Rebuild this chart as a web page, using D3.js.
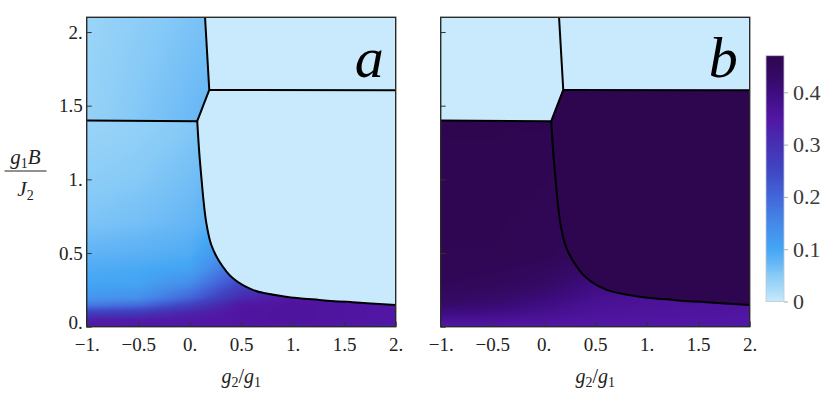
<!DOCTYPE html>
<html><head><meta charset="utf-8">
<script src="https://cdn.jsdelivr.net/npm/d3@7"></script>
<style>body{margin:0;background:#fff}svg{display:block}
svg text{font-family:"Liberation Serif","DejaVu Serif","Times New Roman",serif !important;}</style>
</head><body>
<svg id="chart" width="830" height="397"></svg>
<script>
// ---------- data ----------
const xTicks = [-1, -0.5, 0, 0.5, 1, 1.5, 2];
const xTickLabels = ["\u22121.", "\u22120.5", "0.", "0.5", "1.", "1.5", "2."];
const yTicks = [0, 0.5, 1, 1.5, 2];
const yTickLabels = ["0.", "0.5", "1.", "1.5", "2."];
const cbTicks = [0, 0.1, 0.2, 0.3, 0.4];
const cbTickLabels = ["0", "0.1", "0.2", "0.3", "0.4"];
const panelLabels = ["a", "b"];

// colour map (value -> colour)
const cmapValues = [0, 0.025, 0.05, 0.075, 0.1, 0.15, 0.2, 0.25, 0.3, 0.35, 0.4, 0.43, 0.47];
const cmapColors = ["#c8eafc", "#a6d9f8", "#88cbf7", "#64b5f5", "#44a6f4", "#4588e8", "#4366da",
                    "#4046c4", "#4630b2", "#5216a4", "#3e0c80", "#340a66", "#2e0650"];

// phase boundaries (g2/g1, g1B/J2)
const upperBoundary = [[0.149, 2.1], [0.19, 1.607], [0.073, 1.395]];
const lowerBoundary = [[0.073, 1.395], [0.093, 1.18], [0.115, 1.0], [0.135, 0.85], [0.16, 0.71],
  [0.209, 0.556], [0.288, 0.443], [0.417, 0.33], [0.612, 0.25], [0.935, 0.204],
  [1.258, 0.182], [1.582, 0.166], [2.0, 0.148]];
const leftLine = [[-1, 1.40], [0.073, 1.395]];
const rightLine = [[0.19, 1.607], [2, 1.605]];

// panel a : lower-left phase values
const gridXa = [-1, -0.5, 0, 0.5, 1, 2];
const gridYa = [0, 0.05, 0.1, 0.15, 0.2, 0.3, 0.4, 0.5, 0.7, 1.0, 1.4];
const gridVa = [
  [0.35, 0.35, 0.35, 0.35, 0.35, 0.34],
  [0.33, 0.335, 0.345, 0.355, 0.36, 0.35],
  [0.26, 0.275, 0.32, 0.355, 0.36, 0.35],
  [0.17, 0.19, 0.26, 0.35, 0.36, 0.35],
  [0.125, 0.135, 0.20, 0.31, 0.35, 0.35],
  [0.10, 0.102, 0.14, 0.25, 0.30, 0.30],
  [0.09, 0.095, 0.103, 0.20, 0.25, 0.25],
  [0.078, 0.082, 0.09, 0.15, 0.2, 0.2],
  [0.058, 0.064, 0.074, 0.10, 0.1, 0.1],
  [0.046, 0.052, 0.064, 0.085, 0.08, 0.08],
  [0.034, 0.04, 0.052, 0.065, 0.06, 0.06]
];
// panel a : upper-left phase values
const tlXa = [-1, 0.2];
const tlYa = [1.4, 2.1];
const tlVa = [[0.038, 0.076], [0.034, 0.062]];
// panel a constants for other phases
const phaseA = { TR: 0, R: 0 };

// panel b : lower-left phase values
const gridXb = [-1, -0.5, 0, 0.5, 1, 2];
const gridYb = [0, 0.05, 0.1, 0.15, 0.2, 0.3, 0.5, 1.4];
const gridVb = [
  [0.345, 0.345, 0.345, 0.345, 0.345, 0.345],
  [0.37, 0.37, 0.365, 0.355, 0.355, 0.35],
  [0.40, 0.395, 0.38, 0.365, 0.36, 0.355],
  [0.425, 0.415, 0.395, 0.37, 0.365, 0.36],
  [0.44, 0.43, 0.41, 0.38, 0.37, 0.365],
  [0.455, 0.45, 0.435, 0.40, 0.39, 0.38],
  [0.465, 0.465, 0.46, 0.44, 0.43, 0.42],
  [0.47, 0.47, 0.47, 0.47, 0.47, 0.47]
];
const phaseB = { TL: 0, TR: 0, R: 0.47 };

// ---------- layout ----------
const svg = d3.select("#chart");
const panels = [
  { x0: 86.7, x1: 395.7, label: panelLabels[0], showY: true },
  { x0: 440.7, x1: 749.7, label: panelLabels[1], showY: false }
];
const yTop = 17.3, yBot = 326.7;
const yScale = d3.scaleLinear().domain([0, 2.1]).range([yBot, yTop]);

// colour LUT
const cScale = d3.scaleLinear().domain(cmapValues).range(cmapColors).interpolate(d3.interpolateRgb).clamp(true);
const LUTN = 1024, vMax = 0.47;
const lut = d3.range(LUTN).map(k => d3.rgb(cScale(k / (LUTN - 1) * vMax)));
function colorOf(v) { const k = Math.max(0, Math.min(LUTN - 1, Math.round(v / vMax * (LUTN - 1)))); return lut[k]; }

const vb = upperBoundary.concat(lowerBoundary.slice(1));
function xb(y) {
  if (y >= vb[0][1]) return vb[0][0];
  if (y < vb[vb.length - 1][1]) return Infinity;
  for (let i = 0; i < vb.length - 1; i++) {
    const a = vb[i], b = vb[i + 1];
    if (y <= a[1] && y >= b[1]) return a[0] + (b[0] - a[0]) * (y - a[1]) / (b[1] - a[1]);
  }
  return Infinity;
}
function lineY(line, x) {
  const a = line[0], b = line[1];
  const t = Math.max(0, Math.min(1, (x - a[0]) / (b[0] - a[0])));
  return a[1] + (b[1] - a[1]) * t;
}
function region(x, y) {
  if (x < xb(y)) return y > lineY(leftLine, x) ? "TL" : "L";
  return y > lineY(rightLine, x) ? "TR" : "R";
}
function idx(a, v) { const i = d3.bisectRight(a, v) - 1; return Math.max(0, Math.min(a.length - 2, i)); }
function bilinear(xs, ys, V, x, y) {
  const i = idx(xs, x), j = idx(ys, y);
  const tx = Math.max(0, Math.min(1, (x - xs[i]) / (xs[i + 1] - xs[i])));
  const ty = Math.max(0, Math.min(1, (y - ys[j]) / (ys[j + 1] - ys[j])));
  return (V[j][i] * (1 - tx) + V[j][i + 1] * tx) * (1 - ty) + (V[j + 1][i] * (1 - tx) + V[j + 1][i + 1] * tx) * ty;
}
const valueFns = [
  (x, y) => {
    const r = region(x, y);
    if (r === "TL") return bilinear(tlXa, tlYa, tlVa, x, y);
    if (r === "L") return bilinear(gridXa, gridYa, gridVa, x, y);
    return phaseA[r];
  },
  (x, y) => {
    const r = region(x, y);
    if (r === "L") return bilinear(gridXb, gridYb, gridVb, x, y);
    return phaseB[r];
  }
];

panels.forEach((p, pi) => {
  const xScale = d3.scaleLinear().domain([-1, 2]).range([p.x0, p.x1]);
  const g = svg.append("g");
  const W = Math.round(p.x1 - p.x0), H = Math.round(yBot - yTop);
  const cv = document.createElement("canvas");
  cv.width = W; cv.height = H;
  const ctx = cv.getContext("2d");
  const img = ctx.createImageData(W, H);
  for (let j = 0; j < H; j++) {
    const y = yScale.invert(yTop + j + 0.5);
    for (let i = 0; i < W; i++) {
      const x = xScale.invert(p.x0 + i + 0.5);
      const c = colorOf(valueFns[pi](x, y));
      const o = (j * W + i) * 4;
      img.data[o] = c.r; img.data[o + 1] = c.g; img.data[o + 2] = c.b; img.data[o + 3] = 255;
    }
  }
  ctx.putImageData(img, 0, 0);
  g.append("image").attr("x", p.x0).attr("y", yTop).attr("width", p.x1 - p.x0).attr("height", yBot - yTop)
    .attr("preserveAspectRatio", "none").attr("href", cv.toDataURL());

  // boundaries
  const lineL = d3.line().x(d => xScale(d[0])).y(d => yScale(d[1]));
  const bstyle = sel => sel.attr("fill", "none").attr("stroke", "#000").attr("stroke-width", 2).attr("stroke-linejoin", "round");
  g.append("path").attr("d", lineL(upperBoundary)).call(bstyle);
  g.append("path").attr("d", lineL.curve(d3.curveCatmullRom)(lowerBoundary)).call(bstyle);
  lineL.curve(d3.curveLinear);
  g.append("path").attr("d", lineL(leftLine)).call(bstyle);
  g.append("path").attr("d", lineL(rightLine)).call(bstyle);

  // frame
  g.append("rect").attr("x", p.x0).attr("y", yTop).attr("width", p.x1 - p.x0).attr("height", yBot - yTop)
    .attr("fill", "none").attr("stroke", "#2a2a2a").attr("stroke-width", 1.4);

  // x axis
  const ax = g.append("g").attr("transform", `translate(0,${yBot})`)
    .call(d3.axisBottom(xScale).tickValues(xTicks).tickFormat((d, i) => xTickLabels[i]).tickSizeInner(-5).tickSizeOuter(0));
  ax.select(".domain").remove();
  ax.selectAll(".tick line").attr("stroke", "#333");
  ax.selectAll(".tick text").attr("y", 24).attr("dy", 0).attr("font-size", 19).attr("fill", "#222");

  // y axis
  const ay = g.append("g").attr("transform", `translate(${p.x0},0)`)
    .call(d3.axisLeft(yScale).tickValues(yTicks).tickFormat((d, i) => p.showY ? yTickLabels[i] : "").tickSizeInner(-5).tickSizeOuter(0));
  ay.select(".domain").remove();
  ay.selectAll(".tick line").attr("stroke", "#333");
  ay.selectAll(".tick text").attr("x", -4).attr("dy", (d, i) => i === 0 ? "0.1em" : "0.33em").attr("font-size", 19).attr("fill", "#222");

  // panel letter
  g.append("text").attr("x", p.x1 - 12).attr("y", 77).attr("text-anchor", "end")
    .attr("font-style", "italic").attr("font-size", 58).attr("fill", "#000").text(p.label);

  // x title g2/g1
  const t = g.append("text").attr("x", (p.x0 + p.x1) / 2).attr("y", 383).attr("text-anchor", "middle")
    .attr("font-size", 20).attr("fill", "#222");
  t.append("tspan").attr("font-style", "italic").text("g");
  t.append("tspan").attr("font-size", 14).attr("dy", 4).text("2");
  t.append("tspan").attr("dy", -4).text("/");
  t.append("tspan").attr("font-style", "italic").text("g");
  t.append("tspan").attr("font-size", 14).attr("dy", 4).text("1");
});

// y title: g1 B / J2
const yt = svg.append("g").attr("fill", "#222");
const num = yt.append("text").attr("x", 25.5).attr("y", 164).attr("text-anchor", "middle").attr("font-size", 21);
num.append("tspan").attr("font-style", "italic").text("g");
num.append("tspan").attr("font-size", 14).attr("dy", 4).text("1");
num.append("tspan").attr("font-style", "italic").attr("dy", -4).text("B");
yt.append("line").attr("x1", 4.5).attr("x2", 46.5).attr("y1", 171).attr("y2", 171).attr("stroke", "#222").attr("stroke-width", 1);
const den = yt.append("text").attr("x", 25.5).attr("y", 196).attr("text-anchor", "middle").attr("font-size", 21);
den.append("tspan").attr("font-style", "italic").text("J");
den.append("tspan").attr("font-size", 14).attr("dy", 4).text("2");

// colour bar
const cbX = 766, cbW = 18, cbTop = 55.7, cbBot = 301.5;
const cbScale = d3.scaleLinear().domain([0, vMax]).range([cbBot, cbTop]);
const grad = svg.append("defs").append("linearGradient").attr("id", "cbgrad")
  .attr("x1", 0).attr("y1", 1).attr("x2", 0).attr("y2", 0);
grad.selectAll("stop").data(cmapValues).join("stop")
  .attr("offset", d => d / vMax).attr("stop-color", (d, i) => cmapColors[i]);
svg.append("rect").attr("x", cbX).attr("y", cbTop).attr("width", cbW).attr("height", cbBot - cbTop)
  .attr("fill", "url(#cbgrad)").attr("stroke", "#c8c8c8").attr("stroke-width", 0.8);
const cba = svg.append("g").attr("transform", `translate(${cbX + cbW},0)`)
  .call(d3.axisRight(cbScale).tickValues(cbTicks).tickFormat((d, i) => cbTickLabels[i]).tickSizeInner(4).tickSizeOuter(0).tickPadding(5));
cba.select(".domain").remove();
cba.selectAll(".tick line").attr("stroke", "#aaa");
cba.selectAll(".tick text").attr("font-size", 22).attr("fill", "#3a3a3a");
</script>
</body></html>
